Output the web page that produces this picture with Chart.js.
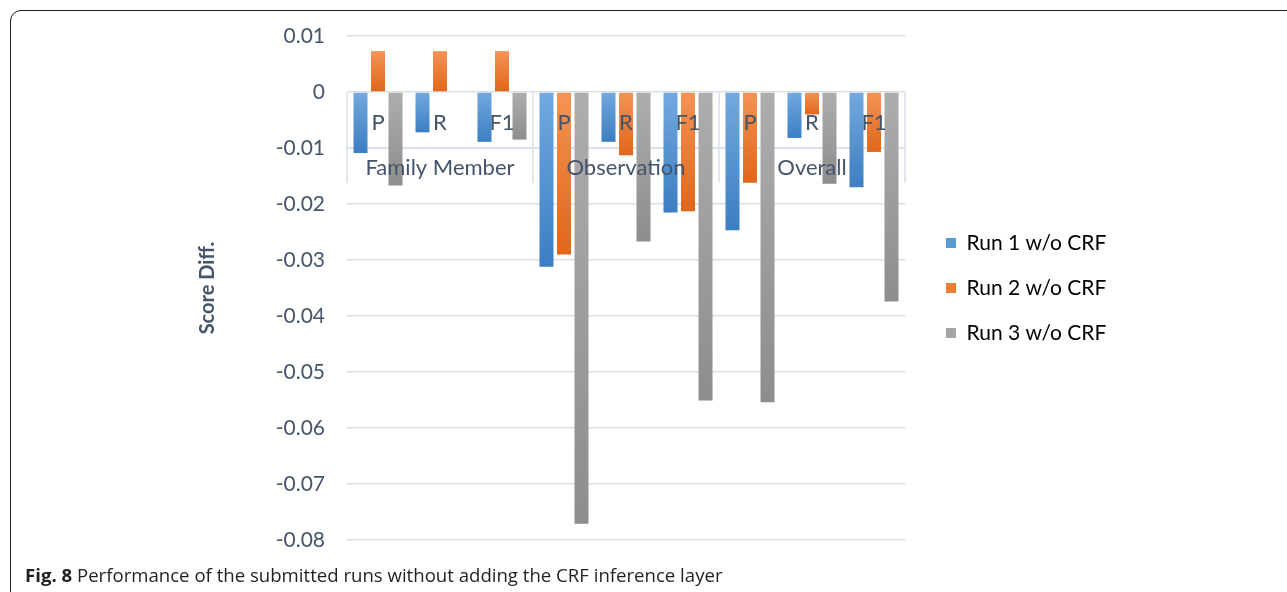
<!DOCTYPE html>
<html>
<head>
<meta charset="utf-8">
<script src="https://cdn.jsdelivr.net/npm/chart.js@4/dist/chart.umd.min.js"></script>
<style>
  html, body { margin: 0; padding: 0; background: #fff; }
  body { width: 1287px; height: 592px; position: relative; overflow: hidden; }
  #frame {
    position: absolute; left: 10px; top: 10px; width: 1300px; height: 592px;
    border: 1.5px solid #1e1e1e; border-radius: 11px; box-sizing: border-box;
  }
  #chart { position: absolute; left: 0; top: 0; }
  #caption {
    position: absolute; left: 25px; top: 562px;
    font-family: "Open Sans", sans-serif; font-size: 18.6px; color: #231f20; white-space: nowrap;
  }
  #caption b { font-weight: 700; }
</style>
</head>
<body>
<div id="frame"></div>
<canvas id="chart" width="1287" height="592"></canvas>
<div id="caption"><b>Fig. 8</b> Performance of the submitted runs without adding the CRF inference layer</div>
<script>
// Category structure: three entity groups, each with P / R / F1
const groups = ['Family Member', 'Observation', 'Overall'];
const metrics = ['P', 'R', 'F1'];
const seriesNames = ['Run 1 w/o CRF', 'Run 2 w/o CRF', 'Run 3 w/o CRF'];

// Score differences (run without CRF minus run with CRF)
const run1 = [-0.0109, -0.0072, -0.0089, -0.0312, -0.0089, -0.0215, -0.0247, -0.0082, -0.0170];
const run2 = [0.0073, 0.0073, 0.0073, -0.0290, -0.0113, -0.0213, -0.0162, -0.0040, -0.0107];
const run3 = [-0.0167, 0, -0.0085, -0.0771, -0.0267, -0.0551, -0.0554, -0.0164, -0.0374];

// Value axis
const yMin = -0.08;
const yMax = 0.01;
const yStep = 0.01;

const labels = groups.flatMap(() => metrics);

const textColor = '#44546a';
const gridColor = '#d9dfe8';
const fontFamily = 'Lato, "Open Sans", sans-serif';

// top / bottom colours of each series' vertical gradient, plus a flat swatch colour
const palettes = [
  { top: '#72a9e0', bottom: '#3c7ec2', flat: '#5b9bd5' },
  { top: '#f39455', bottom: '#e0661a', flat: '#ed7d31' },
  { top: '#adadad', bottom: '#8d8d8d', flat: '#a5a5a5' }
];

function gradientFill(pal) {
  return (ctx) => {
    const chart = ctx.chart;
    if (!chart.chartArea || ctx.type !== 'data') return pal.flat;
    const ys = chart.scales.y;
    const p0 = ys.getPixelForValue(0);
    const p1 = ys.getPixelForValue(ctx.raw);
    const top = Math.min(p0, p1), bot = Math.max(p0, p1);
    if (bot - top < 1) return pal.flat;
    const g = chart.ctx.createLinearGradient(0, top, 0, bot);
    g.addColorStop(0, pal.top);
    g.addColorStop(1, pal.bottom);
    return g;
  };
}

// Two-level category axis drawn along the zero line
const categoryAxis = {
  id: 'categoryAxis',
  beforeDatasetsDraw(chart) {
    const { ctx, chartArea, scales } = chart;
    const y0 = scales.y.getPixelForValue(0);
    const xs = scales.x;
    const n = labels.length;
    const step = (chartArea.right - chartArea.left) / n;
    ctx.save();
    ctx.strokeStyle = gridColor;
    ctx.lineWidth = 1.5;
    ctx.beginPath();
    ctx.moveTo(chartArea.left, y0 + 56);
    ctx.lineTo(chartArea.right, y0 + 56);
    for (let g = 0; g <= groups.length; g++) {
      const x = g === groups.length ? chartArea.right
        : xs.getPixelForValue(g * metrics.length) - step / 2;
      ctx.moveTo(x, y0);
      ctx.lineTo(x, y0 + 91);
    }
    ctx.stroke();
    ctx.restore();
  },
  afterDatasetsDraw(chart) {
    const { ctx, scales } = chart;
    const y0 = scales.y.getPixelForValue(0);
    const xs = scales.x;
    ctx.save();
    ctx.fillStyle = textColor;
    ctx.textAlign = 'center';
    ctx.textBaseline = 'middle';
    ctx.font = '22px ' + fontFamily;
    labels.forEach((lab, i) => {
      ctx.fillText(lab, xs.getPixelForValue(i), y0 + 31);
    });
    groups.forEach((g, gi) => {
      const mid = xs.getPixelForValue(gi * metrics.length + (metrics.length - 1) / 2);
      ctx.fillText(g, mid, y0 + 76);
    });
    ctx.restore();
  }
};

// Fixed-width legend column to the right of the plot
const legendSlot = {
  id: 'legendSlot',
  beforeLayout(chart) {
    const lg = chart.legend;
    if (lg && !lg.__fixedFit) {
      const fit = lg.fit.bind(lg);
      lg.fit = function () { fit(); this.width = 382; };
      lg.__fixedFit = true;
    }
  },
  afterLayout(chart) {
    const lg = chart.legend;
    if (lg) { lg.left += 17; lg.right += 17; }
  }
};

new Chart(document.getElementById('chart'), {
  type: 'bar',
  data: {
    labels,
    datasets: [run1, run2, run3].map((vals, i) => ({
      label: seriesNames[i],
      data: vals,
      backgroundColor: gradientFill(palettes[i]),
      borderWidth: 0,
      categoryPercentage: 0.847,
      barPercentage: 0.8
    }))
  },
  options: {
    responsive: false,
    animation: false,
    events: [],
    layout: { padding: { left: 192, top: 36, bottom: 52, right: 0 } },
    scales: {
      x: { display: false },
      y: {
        min: yMin,
        max: yMax,
        afterFit(scale) { scale.width = 155; },
        border: { display: false },
        grid: { color: gridColor, lineWidth: 1.5, drawTicks: false },
        ticks: {
          stepSize: yStep,
          padding: 22,
          color: textColor,
          font: { family: fontFamily, size: 21 },
          callback: (v) => String(Math.round(v * 100) / 100)
        },
        title: {
          display: true,
          text: 'Score Diff.',
          color: textColor,
          font: { family: fontFamily, size: 20, weight: 'bold' }
        }
      }
    },
    plugins: {
      legend: {
        position: 'right',
        align: 'center',
        labels: {
          boxWidth: 10,
          boxHeight: 10,
          padding: 24,
          color: textColor,
          font: { family: fontFamily, size: 21 },
          generateLabels: (chart) => chart.data.datasets.map((d, i) => ({
            text: d.label,
            fillStyle: palettes[i].flat,
            strokeStyle: palettes[i].flat,
            lineWidth: 0,
            hidden: false,
            datasetIndex: i
          }))
        }
      },
      tooltip: { enabled: false }
    }
  },
  plugins: [categoryAxis, legendSlot]
});
</script>
</body>
</html>
